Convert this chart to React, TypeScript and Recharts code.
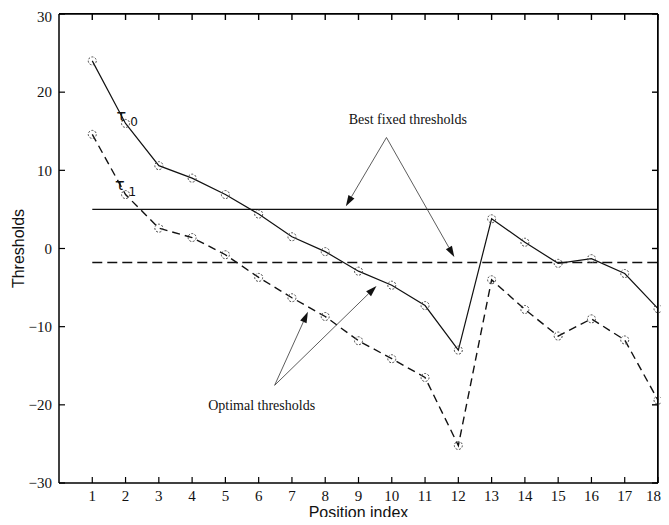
import { LineChart, Line, XAxis, YAxis, ReferenceLine, ReferenceDot } from "recharts";

const positions = [1, 2, 3, 4, 5, 6, 7, 8, 9, 10, 11, 12, 13, 14, 15, 16, 17, 18];
const tau0 = [24, 16, 10.6, 9, 6.9, 4.4, 1.5, -0.4, -2.9, -4.7, -7.3, -13, 3.8, 0.8, -1.9, -1.3, -3.2, -7.7];
const tau1 = [14.6, 6.9, 2.6, 1.4, -0.8, -3.7, -6.3, -8.7, -11.8, -14.1, -16.5, -25.2, -4, -7.8, -11.2, -9, -11.7, -19.4];
const fixedSpan = [1, 18];
const fixedTau0 = 5.0;
const fixedTau1 = -1.8;
const yTicks = [-30, -20, -10, 0, 10, 20, 30];
const xDomain = [0, 18];
const yDomain = [-30, 30];

// annotation anchors, in data units
const bestApex = { x: 9.84, y: 14.2 };
const bestTips = [{ x: 8.62, y: 5.4 }, { x: 11.88, y: -1.1 }];
const optApex = { x: 6.48, y: -17.5 };
const optTips = [{ x: 7.48, y: -8.1 }, { x: 9.54, y: -4.8 }];

const rows = positions.map((x, i) => ({ x, tau0: tau0[i], tau1: tau1[i] }));
const fixed0 = fixedSpan.map((x) => ({ x, y: fixedTau0 }));
const fixed1 = fixedSpan.map((x) => ({ x, y: fixedTau1 }));
const frameTop = xDomain.map((x) => ({ x, y: yDomain[1] }));
const frameRight = yDomain.map((y) => ({ x: xDomain[1], y }));

const W = 653;
const H = 509;
const M = { top: 6, right: 3, bottom: 0, left: 6 };
const Y_W = 45;
const X_H = 34;

const serif = "'Liberation Serif', 'Times New Roman', serif";
const sans = "'Liberation Sans', Arial, sans-serif";
const tickStyle = { fontFamily: serif, fontSize: 15, fill: "#111" };
const minus = (v: number) => String(v).replace("-", "\u2212");

const Ring = (p: any) => (
  <circle key={p.index} cx={p.cx} cy={p.cy} r={4} fill="none" stroke="#444" strokeWidth={1} strokeDasharray="2 1.5" />
);

const Arrow = (p: any) => {
  const { x1, y1, x2, y2 } = p;
  const dx = x2 - x1;
  const dy = y2 - y1;
  const len = Math.hypot(dx, dy) || 1;
  const ux = dx / len;
  const uy = dy / len;
  const bx = x2 - ux * 11;
  const by = y2 - uy * 11;
  const pts = `${x2},${y2} ${bx - uy * 3.5},${by + ux * 3.5} ${bx + uy * 3.5},${by - ux * 3.5}`;
  return (
    <g>
      <line x1={x1} y1={y1} x2={bx} y2={by} stroke="#333" strokeWidth={0.8} />
      <polygon points={pts} fill="#111" />
    </g>
  );
};

// inward tick marks on the top and right edges
const TopTick = (p: any) => {
  const top = Math.min(p.y1, p.y2);
  return <line x1={p.x1} y1={top} x2={p.x1} y2={top + 6} stroke="#000" strokeWidth={1.4} />;
};
const RightTick = (p: any) => {
  const right = Math.max(p.x1, p.x2);
  return <line x1={right} y1={p.y1} x2={right - 6} y2={p.y1} stroke="#000" strokeWidth={1.4} />;
};

const note = (text: string, size = 14) => (p: any) => (
  <text x={p.cx} y={p.cy} textAnchor="middle" dominantBaseline="middle" fontFamily={serif} fontSize={size} fill="#111">
    {text}
  </text>
);

const tau = (sub: string) => (p: any) => (
  <text x={p.cx} y={p.cy} textAnchor="middle" dominantBaseline="middle" fontFamily="'DejaVu Sans', sans-serif" fontSize={16} fill="#111">
    τ
    <tspan dx={4} dy={6} fontSize={12}>{sub}</tspan>
  </text>
);

export default function App() {
  const plotLeft = M.left + Y_W;
  const plotTop = M.top;
  const plotW = W - M.left - M.right - Y_W;
  const plotH = H - M.top - M.bottom - X_H;
  return (
    <div style={{ position: "relative", width: W, height: H }}>
      <style>{".recharts-surface{overflow:visible}"}</style>
      <LineChart width={W} height={H} margin={M}>
        <XAxis
          type="number"
          dataKey="x"
          domain={xDomain}
          ticks={positions}
          height={X_H}
          tickSize={-6}
          tickMargin={13}
          tick={tickStyle}
          axisLine={{ stroke: "#000", strokeWidth: 1.5 }}
          tickLine={{ stroke: "#000", strokeWidth: 1.2 }}
          label={{ value: "Position index", position: "insideBottom", offset: -1, style: { fontFamily: sans, fontSize: 16, fill: "#111" } }}
        />
        <YAxis
          type="number"
          domain={yDomain}
          ticks={yTicks}
          width={Y_W}
          tickSize={-6}
          tickMargin={13}
          tickFormatter={minus}
          tick={tickStyle}
          axisLine={{ stroke: "#000", strokeWidth: 1.5 }}
          tickLine={{ stroke: "#000", strokeWidth: 1.2 }}
          label={{ value: "Thresholds", angle: -90, position: "insideLeft", offset: 4, style: { fontFamily: sans, fontSize: 16, fill: "#111", textAnchor: "middle" } }}
        />

        <Line data={frameTop} dataKey="y" stroke="#000" strokeWidth={1.5} dot={false} activeDot={false} isAnimationActive={false} />
        <Line data={frameRight} dataKey="y" stroke="#000" strokeWidth={1.5} dot={false} activeDot={false} isAnimationActive={false} />
        {positions.map((t) => (
          <ReferenceLine key={"tx" + t} x={t} shape={TopTick} />
        ))}
        {yTicks.map((t) => (
          <ReferenceLine key={"ry" + t} y={t} shape={RightTick} />
        ))}

        <Line data={fixed0} dataKey="y" stroke="#111" strokeWidth={1.2} dot={false} isAnimationActive={false} />
        <Line data={fixed1} dataKey="y" stroke="#111" strokeWidth={1.5} strokeDasharray="10 5" dot={false} isAnimationActive={false} />
        <Line data={rows} dataKey="tau0" stroke="#111" strokeWidth={1.2} dot={Ring} isAnimationActive={false} />
        <Line data={rows} dataKey="tau1" stroke="#111" strokeWidth={1.4} strokeDasharray="8 5" dot={Ring} isAnimationActive={false} />

        {bestTips.map((t, i) => (
          <ReferenceLine key={"b" + i} segment={[bestApex, t]} shape={Arrow} />
        ))}
        {optTips.map((t, i) => (
          <ReferenceLine key={"o" + i} segment={[optApex, t]} shape={Arrow} />
        ))}

        <ReferenceDot x={10.48} y={16.35} r={0} shape={note("Best fixed thresholds")} />
        <ReferenceDot x={6.09} y={-20.2} r={0} shape={note("Optimal thresholds")} />
        <ReferenceDot x={2.05} y={16.9} r={0} shape={tau("0")} />
        <ReferenceDot x={2.0} y={8.0} r={0} shape={tau("1")} />
      </LineChart>
      {/* box edges on top and right of the plot area */}
      <div
        style={{
          position: "absolute",
          left: plotLeft,
          top: plotTop - 1,
          width: plotW,
          height: plotH,
          borderTop: "1.5px solid #000",
          borderRight: "1.5px solid #000",
          boxSizing: "border-box",
          pointerEvents: "none",
        }}
      />
    </div>
  );
}
